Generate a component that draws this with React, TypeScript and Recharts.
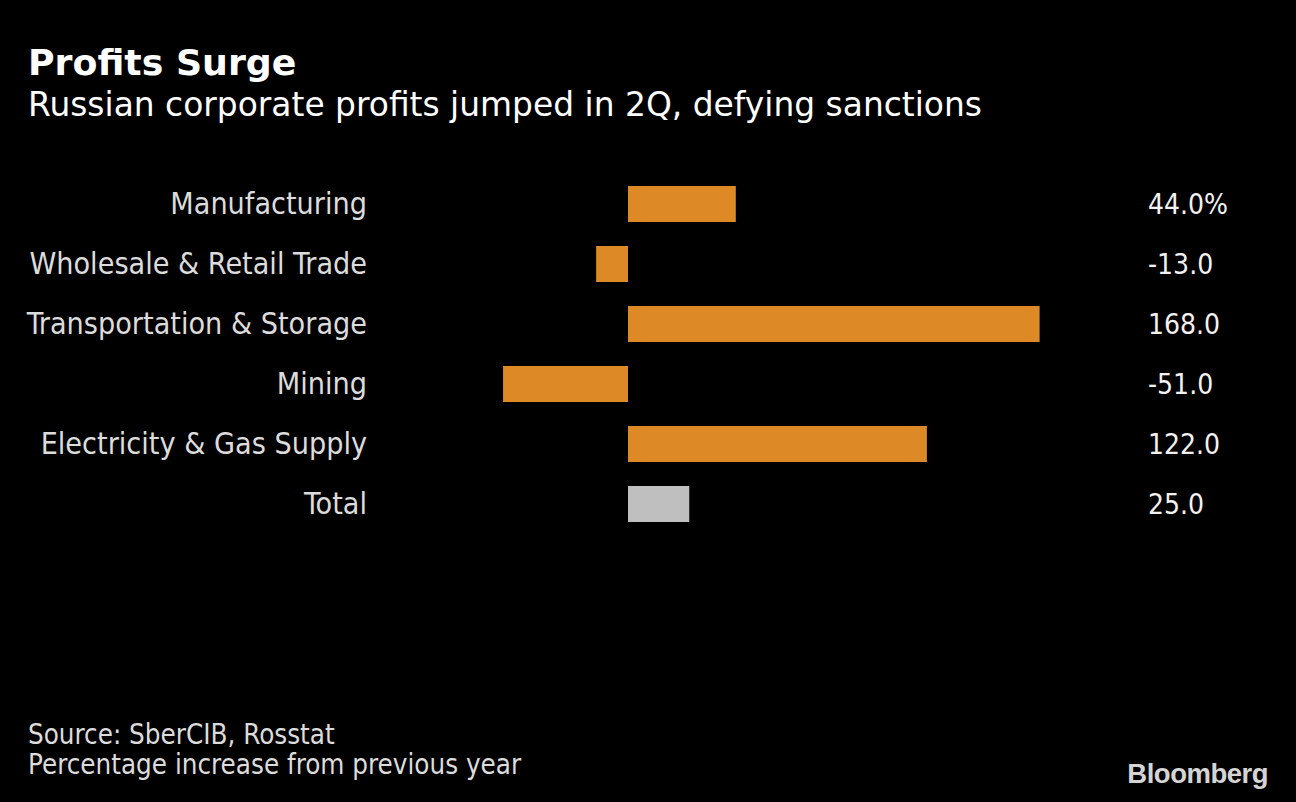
import * as React from 'react'
import { Bar, BarChart, Cell, XAxis, YAxis } from 'recharts'

// Russian corporate profits, 2Q, % change y/y (Bloomberg-style dark card)

const SECTORS = [
  'Manufacturing',
  'Wholesale & Retail Trade',
  'Transportation & Storage',
  'Mining',
  'Electricity & Gas Supply',
  'Total'
]
const CHANGE = [44, -13, 168, -51, 122, 25]
const VALUE_LABELS = ['44.0%', '-13.0', '168.0', '-51.0', '122.0', '25.0']

const ORANGE = '#dd8a26'
const GREY = '#bfbfbf'
const NARROW = "'DejaVu Sans Condensed', 'Liberation Sans Narrow', 'DejaVu Sans', sans-serif"
const WIDE = "'DejaVu Sans', 'Noto Sans', sans-serif"

const data = SECTORS.map((name, i) => ({
  name,
  value: CHANGE[i],
  valueLabel: VALUE_LABELS[i]
}))

export default function App(): React.JSX.Element {
  return (
    <div
      style={{
        position: 'fixed',
        left: 0,
        top: 0,
        width: 1296,
        height: 802,
        background: '#000',
        overflow: 'hidden'
      }}
    >
      <div
        style={{
          position: 'absolute',
          left: 28,
          top: 41,
          fontFamily: WIDE,
          fontWeight: 700,
          fontSize: 36.3,
          lineHeight: '44px',
          color: '#fff'
        }}
      >
        Profits Surge
      </div>
      <div
        style={{
          position: 'absolute',
          left: 28,
          top: 85,
          fontFamily: WIDE,
          fontSize: 32.9,
          lineHeight: '40px',
          color: '#fff'
        }}
      >
        Russian corporate profits jumped in 2Q, defying sanctions
      </div>

      <div style={{ position: 'absolute', left: 0, top: 0 }}>
        <BarChart
          width={1296}
          height={802}
          data={data}
          layout="vertical"
          margin={{ top: 174, right: 0, bottom: 268, left: 0 }}
          barSize={36}
        >
          <XAxis type="number" domain={[-60, 180]} hide allowDataOverflow />
          <YAxis
            yAxisId="left"
            type="category"
            dataKey="name"
            width={481}
            axisLine={false}
            tickLine={false}
            tickSize={0}
            tickMargin={114}
            tick={{ fill: '#dcdcdc', fontSize: 30.2, fontFamily: NARROW, dy: -1 }}
          />
          <YAxis
            yAxisId="right"
            orientation="right"
            type="category"
            dataKey="valueLabel"
            width={227}
            axisLine={false}
            tickLine={false}
            tickSize={0}
            tickMargin={79}
            tick={{ fill: '#f2f2f2', fontSize: 28, fontFamily: NARROW, textAnchor: 'start' }}
          />
          <Bar yAxisId="left" dataKey="value" isAnimationActive={false}>
            {data.map((d) => (
              <Cell key={d.name} fill={d.name === 'Total' ? GREY : ORANGE} />
            ))}
          </Bar>
        </BarChart>
      </div>

      <div
        style={{
          position: 'absolute',
          left: 28,
          top: 719,
          fontFamily: NARROW,
          fontSize: 27.5,
          lineHeight: '30px',
          color: '#dcdcdc'
        }}
      >
        <div>Source: SberCIB, Rosstat</div>
        <div>Percentage increase from previous year</div>
      </div>
      <div
        style={{
          position: 'absolute',
          right: 28,
          top: 758,
          fontFamily: "'Liberation Sans', Arial, sans-serif",
          fontWeight: 700,
          fontSize: 27.5,
          letterSpacing: -0.5,
          lineHeight: '32px',
          color: '#d4d4d4'
        }}
      >
        Bloomberg
      </div>
    </div>
  )
}
